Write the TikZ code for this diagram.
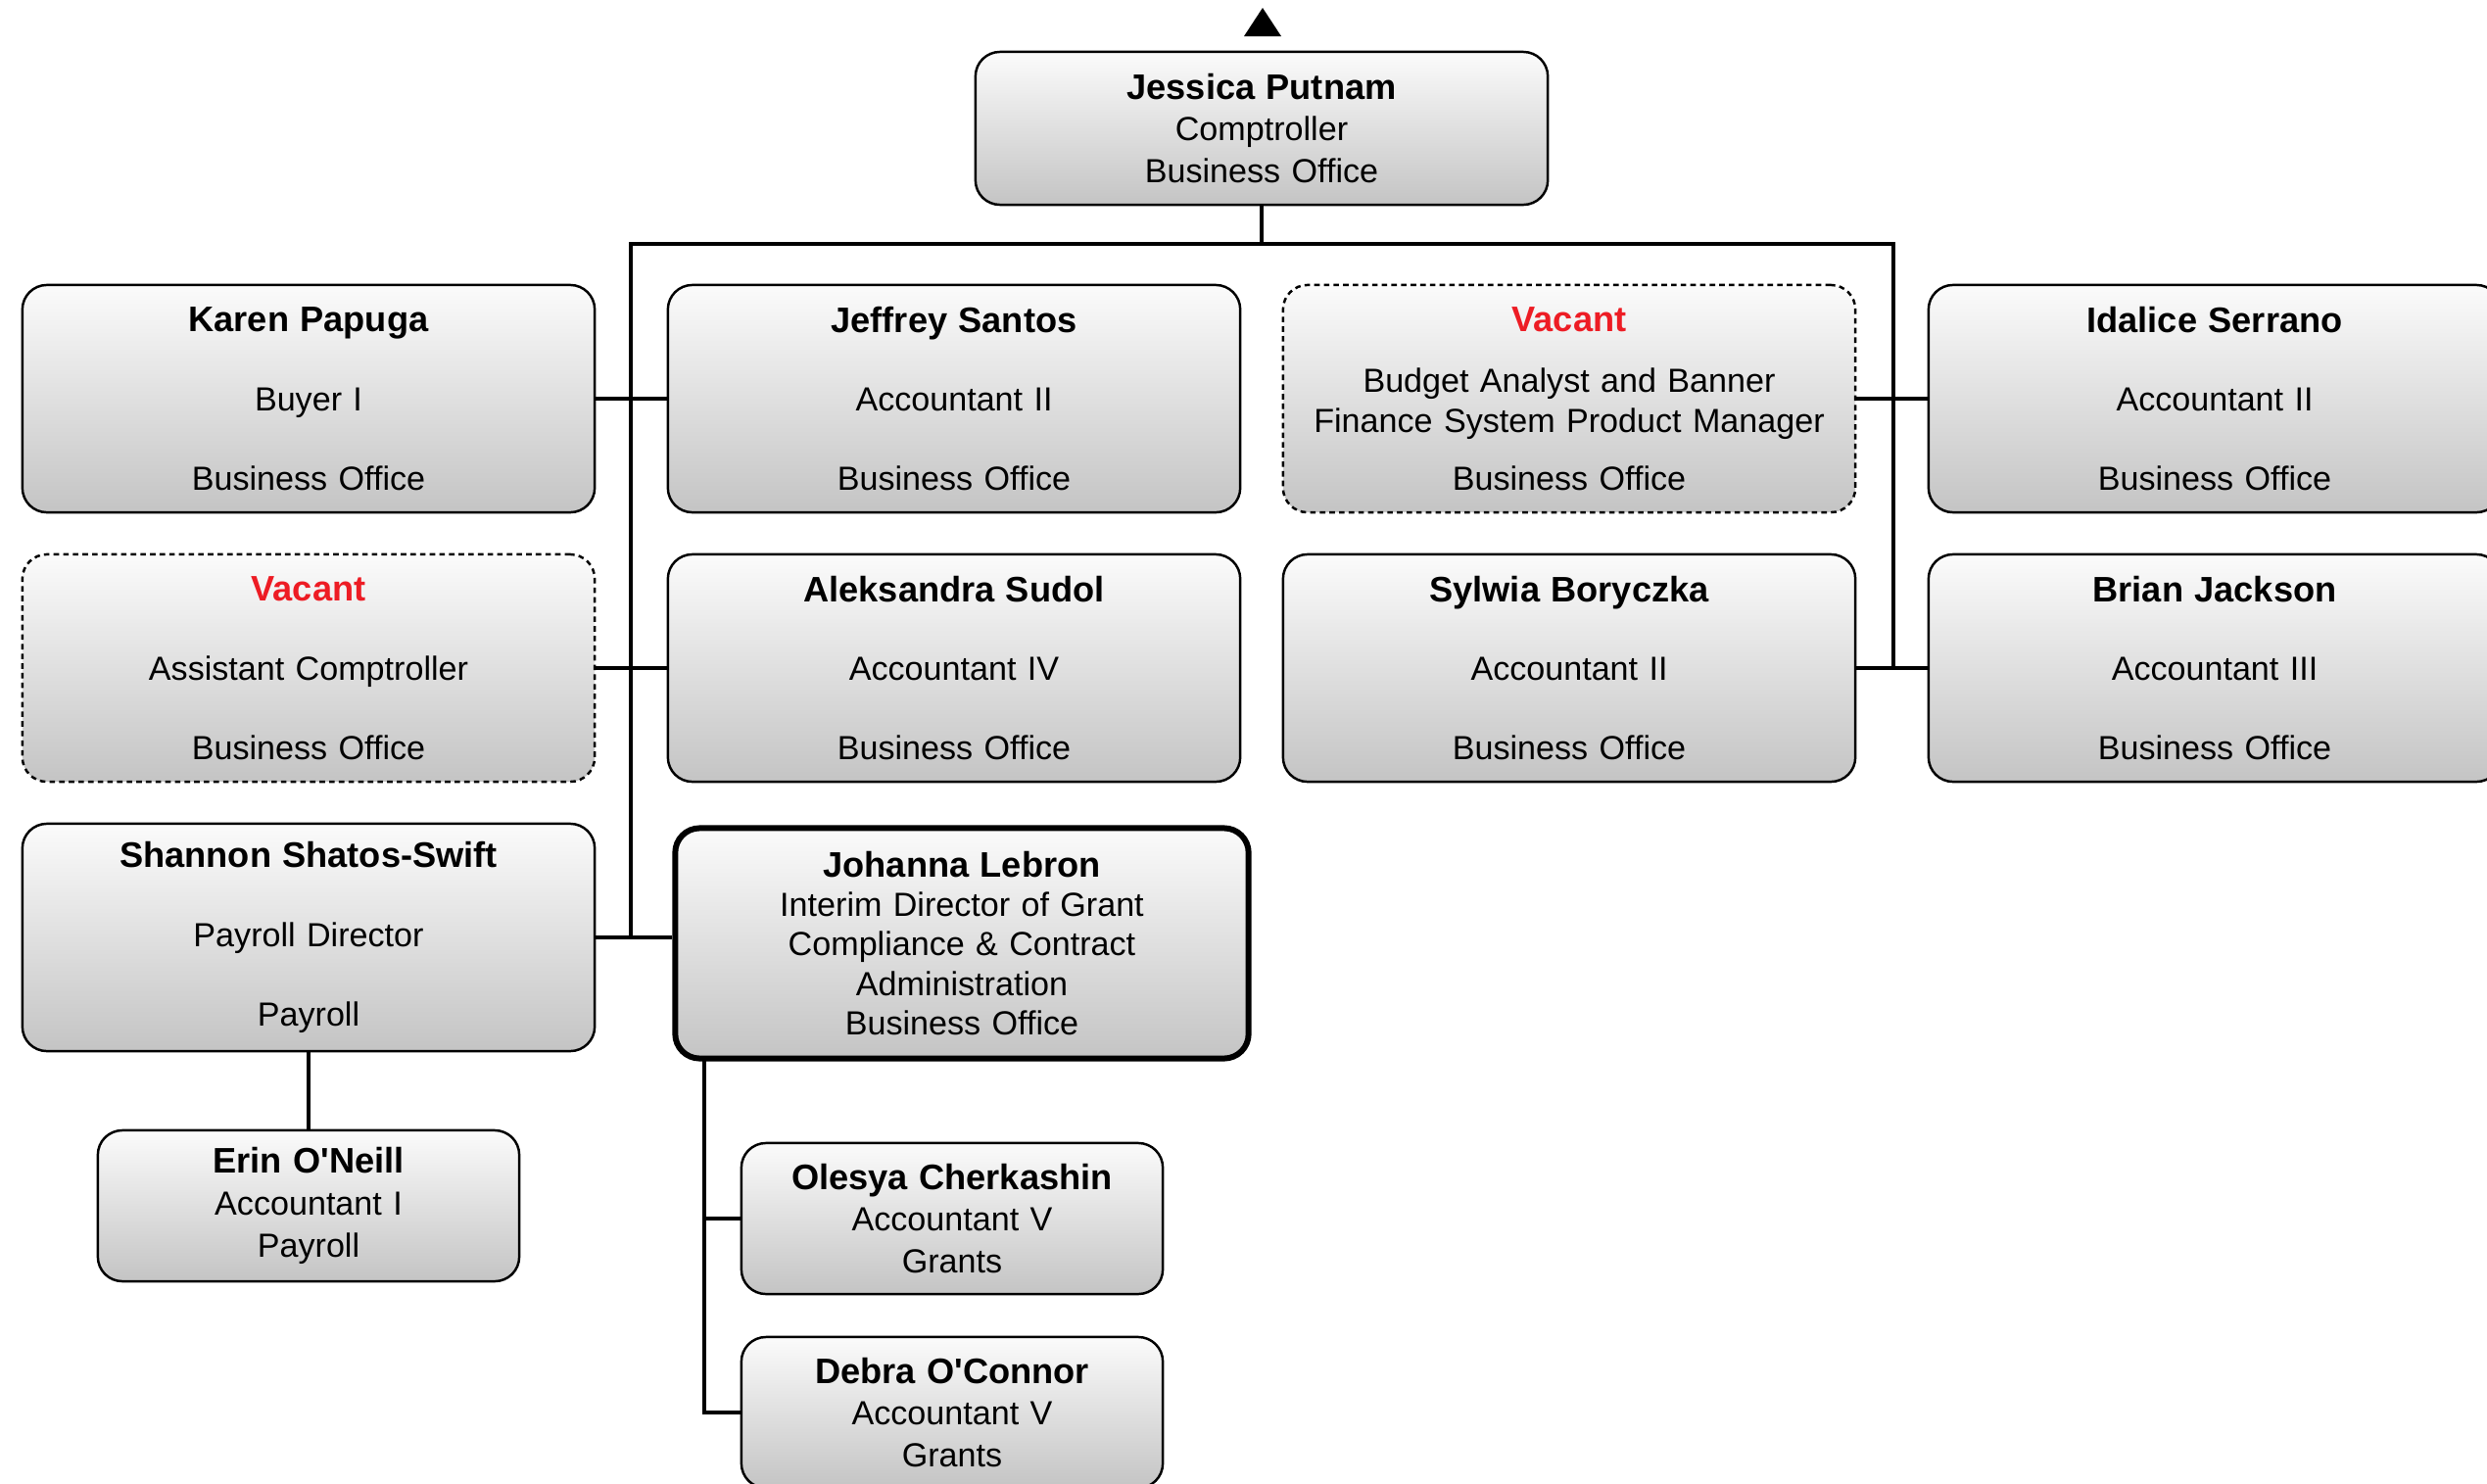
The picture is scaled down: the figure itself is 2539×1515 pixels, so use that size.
\documentclass[tikz,border=0pt]{standalone}
\usepackage{fontspec}
\setmainfont{Liberation Sans}

\definecolor{vacred}{RGB}{237,28,36}
\definecolor{boxtop}{RGB}{251,251,251}
\definecolor{boxbot}{RGB}{196,196,196}

\newcommand{\pname}[1]{{\fontsize{10.3}{11.5}\selectfont\bfseries #1}}
\newcommand{\vacant}{{\fontsize{10.3}{11.5}\selectfont\bfseries\color{vacred}Vacant}}

\begin{document}
\begin{tikzpicture}[x=0.01cm, y=-0.01cm,
	card/.style={draw, line width=0.7pt, rounded corners=0.25cm, top color=boxtop, bottom color=boxbot,
		align=center, inner sep=0pt, text width=5.6cm},
	bigcard/.style={card, minimum width=5.84cm, minimum height=2.32cm, font=\fontsize{9.7}{11.5}\selectfont},
	smallcard/.style={card, minimum width=4.3cm, minimum height=1.54cm, text width=4.1cm, font=\fontsize{9.7}{12.2}\selectfont},
	vaccard/.style={bigcard, dash pattern=on 1.6pt off 1.2pt},
	link/.style={line width=1.1pt}]
	\clip (0,0) rectangle (2539,1515);

	%% head of the office
	\fill (1270,37) -- (1289,8) -- (1308,37) -- cycle;
	\node[smallcard, minimum width=5.84cm, minimum height=1.56cm, text width=5.6cm] (putnam) at (1288,131)
		{\pname{Jessica Putnam}\\Comptroller\\Business Office};

	%% first row
	\node[bigcard] (papuga) at (315,407) {\pname{Karen Papuga}\\[11.5pt]Buyer I\\[11.5pt]Business Office};
	\node[bigcard] (santos) at (974,407) {\pname{Jeffrey Santos}\\[11.5pt]Accountant II\\[11.5pt]Business Office};
	\node[vaccard] (budget) at (1602,407) {\vacant\\[6.3pt]Budget Analyst and Banner\\Finance System Product Manager\\[5.3pt]Business Office\\[1pt]};
	\node[bigcard] (serrano) at (2261,407) {\pname{Idalice Serrano}\\[11.5pt]Accountant II\\[11.5pt]Business Office};

	%% second row
	\node[vaccard] (asstcomp) at (315,682) {\vacant\\[11.5pt]Assistant Comptroller\\[11.5pt]Business Office};
	\node[bigcard] (sudol) at (974,682) {\pname{Aleksandra Sudol}\\[11.5pt]Accountant IV\\[11.5pt]Business Office};
	\node[bigcard] (boryczka) at (1602,682) {\pname{Sylwia Boryczka}\\[11.5pt]Accountant II\\[11.5pt]Business Office};
	\node[bigcard] (jackson) at (2261,682) {\pname{Brian Jackson}\\[11.5pt]Accountant III\\[11.5pt]Business Office};

	%% third row
	\node[bigcard] (swift) at (315,957) {\pname{Shannon Shatos-Swift}\\[11.5pt]Payroll Director\\[11.5pt]Payroll};
	\node[bigcard, line width=1.7pt, minimum width=5.85cm, minimum height=2.35cm] (lebron) at (982,963)
		{\pname{Johanna Lebron}\\Interim Director of Grant\\Compliance \& Contract\\Administration\\Business Office};

	%% under payroll and grants
	\node[smallcard] (oneill) at (315,1231) {\pname{Erin O\textquotesingle Neill}\\Accountant I\\Payroll};
	\node[smallcard] (cherkashin) at (972,1244) {\pname{Olesya Cherkashin}\\Accountant V\\Grants};
	\node[smallcard] (oconnor) at (972,1442) {\pname{Debra O\textquotesingle Connor}\\Accountant V\\Grants};

	%% connectors
	\coordinate (busL) at (644,249);
	\coordinate (busR) at (1933,249);
	\coordinate (grants) at (719,1083);
	\draw[link] (putnam.south) -- (putnam.south |- busL);
	\draw[link] (busL |- swift.east) -- (busL) -- (busR) -- (busR |- jackson.west);
	\draw[link] (papuga.east) -- (santos.west);
	\draw[link] (asstcomp.east) -- (sudol.west);
	\draw[link] (swift.east) -- (swift.east -| lebron.west);
	\draw[link] (budget.east) -- (serrano.west);
	\draw[link] (boryczka.east) -- (jackson.west);
	\draw[link] (swift.south) -- (oneill.north);
	\draw[link] (grants) |- (oconnor.west);
	\draw[link] (grants |- cherkashin.west) -- (cherkashin.west);
\end{tikzpicture}
\end{document}
